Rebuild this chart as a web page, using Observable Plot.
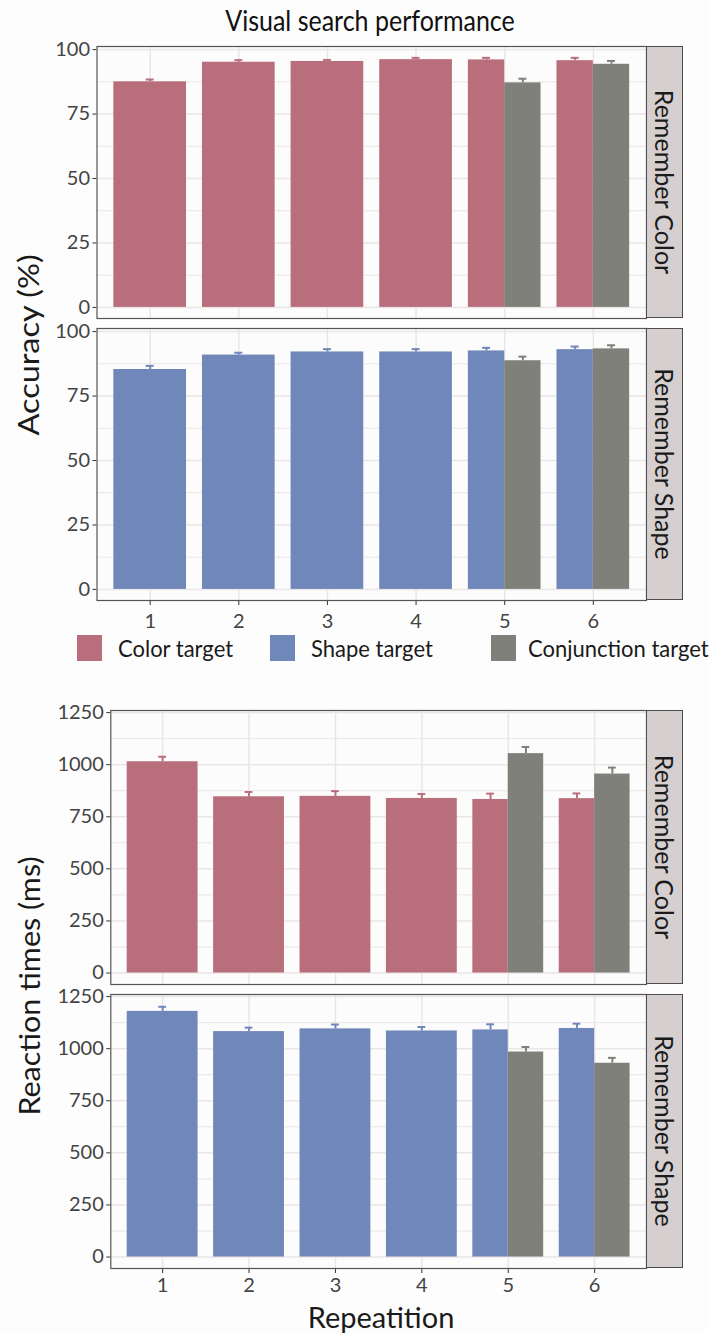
<!DOCTYPE html>
<html>
<head>
<meta charset="utf-8">
<script src="https://cdn.jsdelivr.net/npm/d3@7"></script>
<script src="https://cdn.jsdelivr.net/npm/@observablehq/plot@0.6"></script>
<style>
  html, body { margin: 0; padding: 0; background: #fdfdfd; }
  #chart { position: relative; width: 709px; height: 1333px; background: #fdfdfd; overflow: hidden;
           font-family: Lato, "Open Sans", "Noto Sans", sans-serif; color: #1a1a1a; }
  #chart svg { position: absolute; left: 0; overflow: visible; }
  #chart svg text { font-family: Lato, "Open Sans", "Noto Sans", sans-serif; font-size: 20px; fill: #444444; }
  .abs { position: absolute; white-space: nowrap; }
  .rot { position: absolute; white-space: nowrap; }
  .strip { position: absolute; box-sizing: border-box; background: #d5cfcf; border: 1.2px solid #4d4d4d; }
  .strip span { position: absolute; left: 50%; top: 50%; white-space: nowrap; font-size: 25px; color: #1a1a1a;
                transform: translate(-50%, -50%) rotate(90deg); }
  .sw { position: absolute; width: 25px; height: 26px; }
  .lg { position: absolute; font-size: 22px; line-height: 26px; height: 26px; color: #1a1a1a; white-space: nowrap;
        transform: scaleY(1.08); transform-origin: left center; }
</style>
</head>
<body>
<div id="chart"></div>
<script>
// ---------------- data ----------------
const reps = [1, 2, 3, 4, 5, 6];
const targets = ["Color target", "Shape target", "Conjunction target"];
const targetColors = ["#b96f7b", "#7087b9", "#80807b"];
const memoryConditions = ["Remember Color", "Remember Shape"];

const accTicks = [0, 25, 50, 75, 100];
const accMinor = [12.5, 37.5, 62.5, 87.5];
const rtTicks = [0, 250, 500, 750, 1000, 1250];
const rtMinor = [125, 375, 625, 875, 1125];

// Accuracy (%) — Remember Color
const accColorMem_colorTarget   = [87.5, 95.1, 95.4, 96.1, 96.0, 95.7];
const accColorMem_colorTargetSE = [0.9, 0.8, 0.6, 0.7, 0.8, 1.1];
const accColorMem_conjTarget    = [null, null, null, null, 87.1, 94.3];
const accColorMem_conjTargetSE  = [null, null, null, null, 1.6, 1.3];
// Accuracy (%) — Remember Shape
const accShapeMem_shapeTarget   = [85.3, 90.9, 92.1, 92.1, 92.5, 93.0];
const accShapeMem_shapeTargetSE = [1.4, 0.9, 1.1, 1.1, 1.2, 1.2];
const accShapeMem_conjTarget    = [null, null, null, null, 88.7, 93.3];
const accShapeMem_conjTargetSE  = [null, null, null, null, 1.6, 1.4];
// Reaction times (ms) — Remember Color
const rtColorMem_colorTarget   = [1014, 846, 848, 838, 833, 837];
const rtColorMem_colorTargetSE = [24, 23, 25, 21, 28, 25];
const rtColorMem_conjTarget    = [null, null, null, null, 1053, 955];
const rtColorMem_conjTargetSE  = [null, null, null, null, 32, 31];
// Reaction times (ms) — Remember Shape
const rtShapeMem_shapeTarget   = [1179, 1082, 1095, 1085, 1090, 1097];
const rtShapeMem_shapeTargetSE = [22, 19, 21, 19, 27, 23];
const rtShapeMem_conjTarget    = [null, null, null, null, 984, 930];
const rtShapeMem_conjTargetSE  = [null, null, null, null, 24, 26];

// ---------------- build rows (dodge like ggplot) ----------------
const HALF = 0.41;
function buildRows(mainTarget, vals, se, conjVals, conjSE) {
  const rows = [];
  reps.forEach((r, i) => {
    const hasConj = conjVals[i] != null;
    const x1 = r - HALF, x2 = hasConj ? r : r + HALF;
    rows.push({rep: r, target: mainTarget, value: vals[i], se: se[i], x1, x2, xc: (x1 + x2) / 2});
    if (hasConj) {
      rows.push({rep: r, target: targets[2], value: conjVals[i], se: conjSE[i], x1: r, x2: r + HALF, xc: r + HALF / 2});
    }
  });
  return rows;
}

const chart = document.getElementById("chart");

function panel({rows, left, top, yDomain, yTicks, yMinor, showX, frameH, xPad}) {
  const mt = 6, mb = showX ? 32 : 6;
  const grid = "#ebe5e5";
  const p = Plot.plot({
    width: 709,
    height: mt + frameH + mb,
    marginLeft: left, marginRight: 709 - 646, marginTop: mt, marginBottom: mb,
    style: {background: "transparent", color: "#333333", overflow: "visible"},
    x: {domain: [0.4, 6.6], ticks: reps, tickFormat: d => String(d), tickSize: 5, tickPadding: xPad || 6,
        label: null, axis: showX ? "bottom" : null},
    y: {domain: yDomain, ticks: yTicks, tickFormat: d => String(d), tickSize: 4, tickPadding: 3, label: null},
    color: {domain: targets, range: targetColors},
    marks: [
      Plot.frame({fill: "#fdfcfc"}),
      Plot.ruleY(yMinor, {stroke: grid, strokeWidth: 1}),
      Plot.ruleY(yTicks, {stroke: grid, strokeWidth: 1.5}),
      Plot.ruleX(reps, {stroke: grid, strokeWidth: 1.5}),
      Plot.ruleX(rows, {x: "xc", y1: "value", y2: d => d.value + d.se, stroke: "target", strokeWidth: 2}),
      Plot.ruleY(rows, {y: d => d.value + d.se, x1: d => d.xc - 0.045, x2: d => d.xc + 0.045, stroke: "target", strokeWidth: 2}),
      Plot.rect(rows, {x1: "x1", x2: "x2", y1: 0, y2: "value", fill: "target"}),
      Plot.frame({stroke: "#555555", strokeWidth: 1.2})
    ]
  });
  p.style.top = (top - mt) + "px";
  chart.appendChild(p);
}

function strip(text, top, h) {
  const d = document.createElement("div");
  d.className = "strip";
  d.style.left = "646px"; d.style.width = "37px";
  d.style.top = top + "px"; d.style.height = h + "px";
  const s = document.createElement("span");
  s.textContent = text;
  d.appendChild(s);
  chart.appendChild(d);
}

function label(text, cls, css) {
  const d = document.createElement("div");
  d.className = cls;
  d.textContent = text;
  Object.assign(d.style, css);
  chart.appendChild(d);
  return d;
}

// Title
label("Visual search performance", "abs", {left: "370px", top: "19px", transform: "translate(-50%,-50%) scaleY(1.15)", fontSize: "25px", color: "#111"});

// Accuracy panels
const accDomain = [-4.3, 101.2];
panel({rows: buildRows(targets[0], accColorMem_colorTarget, accColorMem_colorTargetSE, accColorMem_conjTarget, accColorMem_conjTargetSE),
       left: 96.5, top: 46, yDomain: accDomain, yTicks: accTicks, yMinor: accMinor, showX: false, frameH: 272});
panel({rows: buildRows(targets[1], accShapeMem_shapeTarget, accShapeMem_shapeTargetSE, accShapeMem_conjTarget, accShapeMem_conjTargetSE),
       left: 96.5, top: 328, yDomain: accDomain, yTicks: accTicks, yMinor: accMinor, showX: true, frameH: 272, xPad: 8});
strip(memoryConditions[0], 46, 272);
strip(memoryConditions[1], 328, 272);
label("Accuracy (%)", "rot", {left: "28px", top: "345px", fontSize: "29px", lineHeight: "32px",
      transform: "translate(-50%,-50%) rotate(-90deg) scaleX(1.12)"});

// Legend
const legendX = [[77, 118], [270, 311], [491, 528]];
targets.forEach((t, i) => {
  const sw = document.createElement("div");
  sw.className = "sw";
  sw.style.left = legendX[i][0] + "px"; sw.style.top = "635px"; sw.style.background = targetColors[i];
  chart.appendChild(sw);
  label(t, "lg", {left: legendX[i][1] + "px", top: "635px"});
});

// RT panels
const rtDomain = [-55, 1260];
panel({rows: buildRows(targets[0], rtColorMem_colorTarget, rtColorMem_colorTargetSE, rtColorMem_conjTarget, rtColorMem_conjTargetSE),
       left: 110.3, top: 709.5, yDomain: rtDomain, yTicks: rtTicks, yMinor: rtMinor, showX: false, frameH: 274});
panel({rows: buildRows(targets[1], rtShapeMem_shapeTarget, rtShapeMem_shapeTargetSE, rtShapeMem_conjTarget, rtShapeMem_conjTargetSE),
       left: 110.3, top: 993.5, yDomain: rtDomain, yTicks: rtTicks, yMinor: rtMinor, showX: true, frameH: 274, xPad: 4});
strip(memoryConditions[0], 709.5, 274);
strip(memoryConditions[1], 993.5, 274);
label("Reaction times (ms)", "rot", {left: "29px", top: "986px", fontSize: "29px", lineHeight: "32px",
      transform: "translate(-50%,-50%) rotate(-90deg) scaleX(1.05)"});
label("Repeatition", "abs", {left: "381px", top: "1316px", transform: "translate(-50%,-50%)", fontSize: "29px", lineHeight: "29px"});
</script>
</body>
</html>
